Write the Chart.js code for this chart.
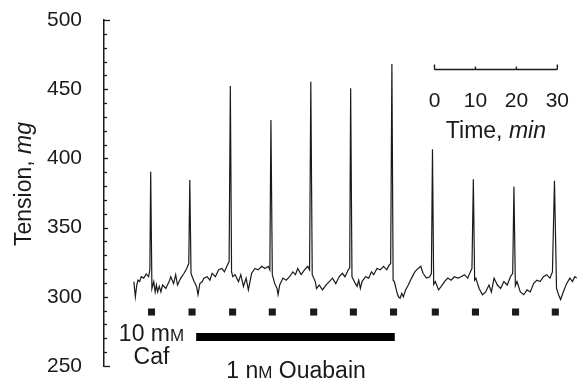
<!DOCTYPE html>
<html>
<head>
<meta charset="utf-8">
<script src="https://cdn.jsdelivr.net/npm/chart.js@4.4.1/dist/chart.umd.min.js"></script>
<style>
  body { margin: 0; background: #fff; }
  #wrap { width: 582px; height: 380px; }
</style>
</head>
<body>
<div id="wrap"><canvas id="myChart" width="582" height="380"></canvas></div>
<script>
// time in minutes, tension in mg
const times = [
  7.3, 7.65, 8.0, 8.3, 8.7, 9.1, 9.7, 10.3, 10.9, 11.2, 11.4, 11.7, 12.15, 12.5, 12.8, 13.1, 13.5, 13.9, 14.3, 15.1,
  15.9, 16.3, 17.0, 17.5, 17.95, 18.75, 19.55, 20.2, 20.7, 20.95, 21.25, 21.55, 22.0, 22.6, 22.95, 23.4, 24.0, 24.4, 25.2, 25.85,
  26.4, 27.2, 28.0, 28.8, 29.4, 30.0, 30.55, 30.85, 31.15, 31.45, 32.0, 32.85, 33.4, 34.05, 34.7, 35.25, 36.05, 36.85, 37.65, 38.5,
  39.3, 40.1, 40.5, 40.76, 41.1, 41.7, 42.25, 42.5, 42.9, 43.7, 44.5, 45.3, 46.1, 46.75, 47.3, 48.15, 48.95, 49.75, 50.2, 50.5,
  50.85, 51.6, 51.9, 52.55, 53.35, 54.2, 55.0, 55.8, 56.6, 57.4, 58.2, 58.85, 59.65, 60.0, 60.23, 60.55, 61.4, 61.8, 62.2, 62.6,
  63.0, 63.85, 64.65, 65.3, 65.85, 66.65, 67.45, 68.25, 69.05, 69.65, 70.0, 70.3, 70.6, 70.9, 71.5, 71.9, 72.3, 72.7, 73.1, 73.65,
  74.3, 75.1, 75.9, 76.7, 77.35, 77.9, 78.75, 79.55, 79.95, 80.21, 80.5, 80.9, 81.7, 82.35, 83.15, 83.95, 84.75, 85.55, 86.4, 87.2,
  88.0, 88.8, 89.45, 89.85, 90.19, 90.5, 90.8, 91.6, 92.4, 93.2, 94.0, 94.6, 95.25, 96.05, 96.85, 97.65, 98.45, 99.25, 99.8, 100.1,
  100.45, 100.85, 101.65, 102.5, 103.3, 104.1, 104.9, 105.7, 106.5, 107.3, 108.1, 108.9, 109.5, 110.0, 110.5, 111.0, 111.5, 112.15, 112.95, 113.75,
  114.4, 114.95, 115.45
];
const tension = [
  311, 300, 308.5, 312, 311, 314.5, 313.5, 316.5, 314.5, 319.5, 390.4, 306, 311, 303.5, 308.5, 303.5, 307.5, 303.5, 308.5, 306,
  311, 314.5, 309.5, 316, 308.5, 313.5, 317, 320.5, 324, 384.4, 317, 314.5, 311, 307.5, 301.5, 309.5, 311, 313.5, 314.5, 312,
  317, 314.5, 319.5, 320.5, 318, 322, 325.5, 452.3, 318, 314.5, 316, 311, 316, 307.5, 313.5, 305, 317, 320.5, 319.5, 322,
  320.5, 322, 319.5, 427.7, 316, 309.5, 306, 301.5, 308.5, 313.5, 312, 314.5, 318, 316, 320.5, 316, 319.5, 322, 319.5, 455.4,
  316, 311, 306, 308.5, 305, 308.5, 311, 313.5, 309.5, 314.5, 317, 314.5, 319.5, 321, 450.6, 314.5, 309.5, 307.5, 312, 306,
  311, 314.5, 313.5, 318, 316, 320.5, 319.5, 322, 319.5, 323, 324, 468.2, 312, 311, 303.5, 300, 299, 302.5, 300, 305,
  308.5, 313.5, 318, 320.5, 322, 317, 313.5, 314.5, 317, 406.6, 309, 311, 305, 307.5, 311, 313.5, 312, 314.5, 313.5, 314.5,
  316, 313.5, 318, 320.5, 384.9, 312, 313.5, 306, 301.5, 303.5, 308.5, 303.5, 313.5, 308.5, 306, 311, 308.5, 314.5, 317, 379.6,
  308, 311, 303.5, 301.5, 305, 303.5, 309.5, 312, 311, 314.5, 316, 313.5, 318, 383.9, 306, 301.5, 298, 303.5, 309.5, 313.5,
  311, 314.5, 313.5
];
// stimulus markers
const markTimes = [11.6, 21.5, 31.4, 41.1, 51.2, 60.9, 70.7, 80.9, 90.7, 100.5, 110.2];
const markLevel = 289;
// ouabain exposure
const ouabainTimes = [22.5, 71.0];
const ouabainLevel = 271;
// y ticks
const yMin = 250, yMax = 500, yStep = 50, yMinor = 10;
// time scale bar
const barStart = 80.7;
const barTicks = [0, 10, 20, 30];
const barLevel = 464.2;

const FONT = '"Liberation Sans", Arial, Helvetica, sans-serif';
const INK = '#1a1a1a';

function drawRuns(ctx, runs, cx, cy) {
  let w = 0;
  runs.forEach(r => { ctx.font = r[1]; w += ctx.measureText(r[0]).width; });
  let x = cx - w / 2;
  ctx.textAlign = 'left';
  ctx.textBaseline = 'alphabetic';
  runs.forEach(r => {
    ctx.font = r[1];
    ctx.fillText(r[0], x, cy);
    x += ctx.measureText(r[0]).width;
  });
}

const extras = {
  id: 'extras',
  afterDraw(chart) {
    const ctx = chart.ctx;
    const xs = chart.scales.x, ys = chart.scales.y;
    const left = chart.chartArea.left;
    ctx.save();
    ctx.strokeStyle = INK;
    ctx.fillStyle = INK;

    // inward ticks on the tension axis
    ctx.lineWidth = 1.3;
    for (let v = yMin; v <= yMax; v += yMinor) {
      const py = Math.round(ys.getPixelForValue(v)) + 0.5;
      let len = v % yStep === 0 ? 4 : 3;
      if (v === yMin || v === yMax) len = 6;
      ctx.beginPath();
      ctx.moveTo(left, py);
      ctx.lineTo(left + len, py);
      ctx.stroke();
    }

    // time scale bar
    const by = ys.getPixelForValue(barLevel);
    const bx0 = xs.getPixelForValue(barStart);
    const bx1 = xs.getPixelForValue(barStart + barTicks[barTicks.length - 1]);
    ctx.lineWidth = 1.4;
    ctx.beginPath();
    ctx.moveTo(bx0, by);
    ctx.lineTo(bx1, by);
    ctx.stroke();
    barTicks.forEach((t, i) => {
      const px = xs.getPixelForValue(barStart + t);
      const h = (i === 0 || i === barTicks.length - 1) ? 5 : 3;
      ctx.beginPath();
      ctx.moveTo(px, by);
      ctx.lineTo(px, by - h);
      ctx.stroke();
    });
    const D = '21px ' + FONT;
    const R = '23px ' + FONT;
    const I = 'italic 23px ' + FONT;
    const S = '17px ' + FONT;
    barTicks.forEach(t => {
      drawRuns(ctx, [[String(t), D]], xs.getPixelForValue(barStart + t), ys.getPixelForValue(442.2) + 7.5);
    });
    drawRuns(ctx, [['Time, ', R], ['min', I]], xs.getPixelForValue(95.7), ys.getPixelForValue(420.5) + 8);

    // labels below the trace
    drawRuns(ctx, [['10 m', R], ['M', S]], xs.getPixelForValue(11.6), ys.getPixelForValue(273.8) + 8);
    drawRuns(ctx, [['Caf', R]], xs.getPixelForValue(11.6), ys.getPixelForValue(257.2) + 8);
    drawRuns(ctx, [['1 n', R], ['M', S], [' Ouabain', R]], xs.getPixelForValue(46.9), ys.getPixelForValue(247.1) + 8);

    // axis title
    ctx.translate(23, 184);
    ctx.rotate(-Math.PI / 2);
    drawRuns(ctx, [['Tension, ', R], ['mg', I]], 0, 8);
    ctx.restore();
  }
};

const ctx = document.getElementById('myChart').getContext('2d');
const myChart = new Chart(ctx, {
  type: 'line',
  data: {
    datasets: [
      {
        label: 'Tension',
        data: times.map((t, i) => ({ x: t, y: tension[i] })),
        borderColor: INK,
        borderWidth: 1.2,
        pointRadius: 0,
        tension: 0
      },
      {
        label: 'Stimulus',
        data: markTimes.map(t => ({ x: t, y: markLevel })),
        showLine: false,
        pointStyle: 'rect',
        pointRadius: 5,
        backgroundColor: INK,
        borderColor: INK,
        borderWidth: 0
      },
      {
        label: 'Ouabain',
        data: ouabainTimes.map(t => ({ x: t, y: ouabainLevel })),
        borderColor: '#000',
        borderWidth: 8,
        borderCapStyle: 'butt',
        pointRadius: 0
      }
    ]
  },
  options: {
    responsive: false,
    animation: false,
    devicePixelRatio: 1,
    layout: { padding: { top: 20, bottom: 14, left: 47, right: 0 } },
    plugins: { legend: { display: false }, tooltip: { enabled: false } },
    scales: {
      x: { type: 'linear', min: 0, max: 115.5, display: false },
      y: {
        min: yMin,
        max: yMax,
        afterFit: s => { s.width = 57; },
        grid: { display: false, drawTicks: false },
        border: { display: true, color: INK, width: 1.5 },
        ticks: {
          stepSize: yStep,
          padding: 0,
          crossAlign: 'far',
          color: INK,
          font: { family: FONT, size: 21 }
        }
      }
    }
  },
  plugins: [extras]
});
</script>
</body>
</html>
